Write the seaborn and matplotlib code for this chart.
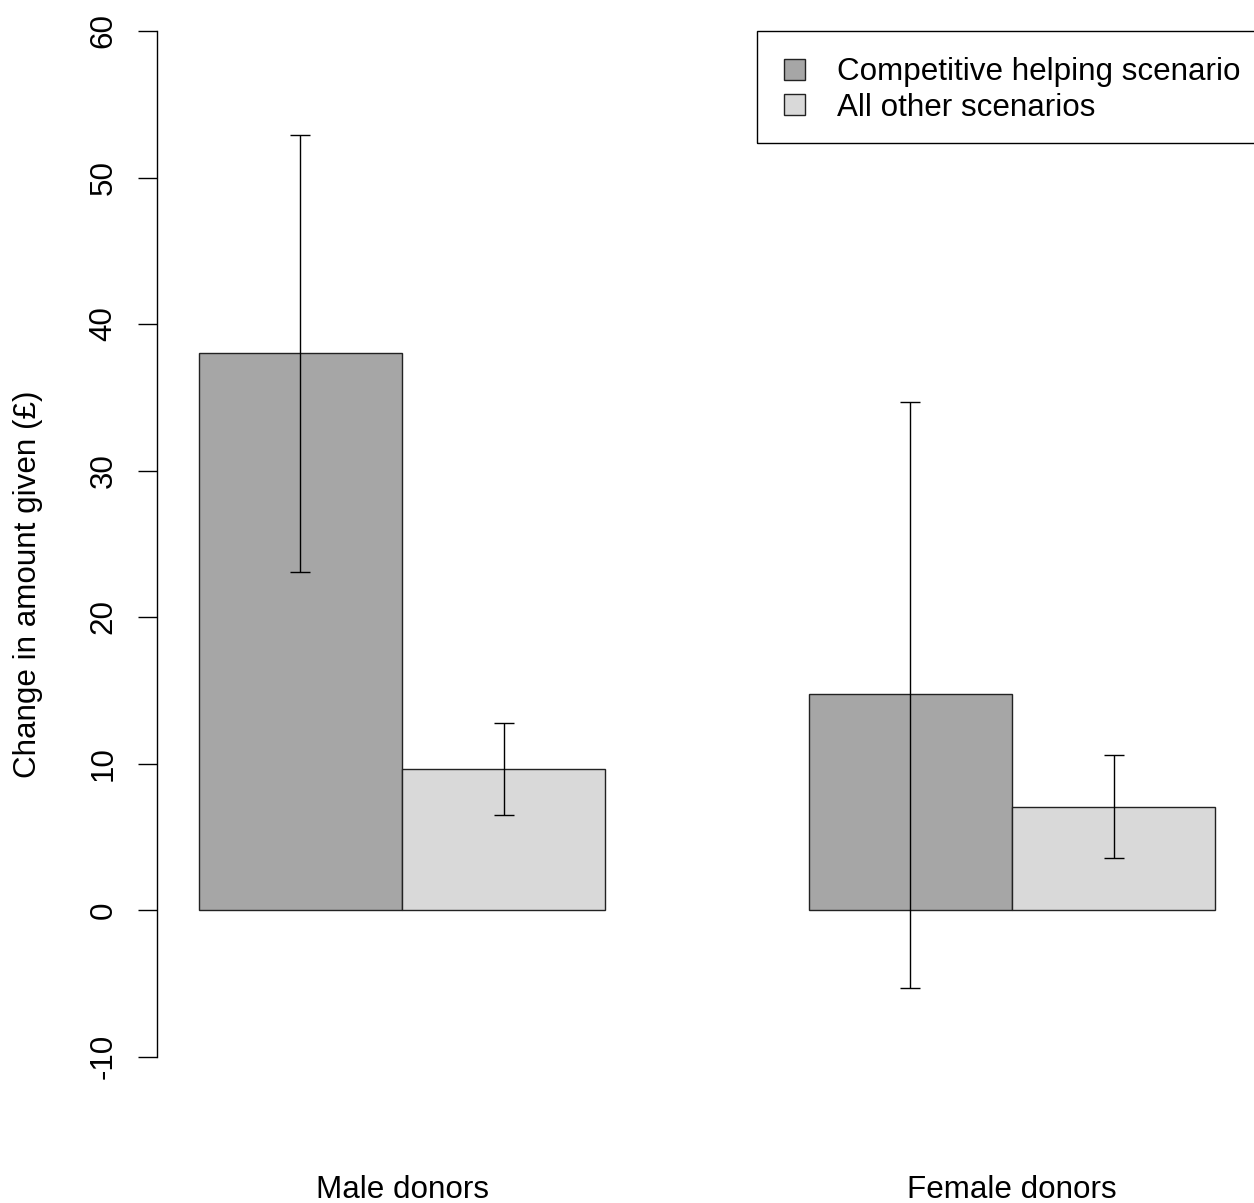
import matplotlib
matplotlib.use("Agg")
import matplotlib.pyplot as plt
from matplotlib.patches import Rectangle
import seaborn as sns
import pandas as pd
import numpy as np

groups = ["Male donors", "Female donors"]
scenarios = ["Competitive helping scenario", "All other scenarios"]
competitive_mean = [38.0, 14.75]
competitive_low = [23.1, -5.3]
competitive_high = [52.9, 34.7]
other_mean = [9.6, 7.05]
other_low = [6.5, 3.55]
other_high = [12.75, 10.6]
yticks = [-10, 0, 10, 20, 30, 40, 50, 60]

rows = []
for i, g in enumerate(groups):
    rows.append(dict(group=g, scenario=scenarios[0], value=competitive_mean[i],
                     low=competitive_low[i], high=competitive_high[i]))
for i, g in enumerate(groups):
    rows.append(dict(group=g, scenario=scenarios[1], value=other_mean[i],
                     low=other_low[i], high=other_high[i]))
df = pd.DataFrame(rows)

sns.set_theme(style="white")
plt.rcParams["font.family"] = ["Liberation Sans", "DejaVu Sans"]
plt.rcParams["text.color"] = "black"
plt.rcParams["axes.labelcolor"] = "black"
plt.rcParams["xtick.color"] = "black"
plt.rcParams["ytick.color"] = "black"
FS = 22.6

W, H = 1254, 1203
fig = plt.figure(figsize=(W / 100, H / 100), dpi=100)
left, right, top, bottom = 157, 1254, 8, 1160
ax = fig.add_axes([left / W, (H - bottom) / H, (right - left) / W, (bottom - top) / H])

sns.barplot(data=df, x="group", y="value", hue="scenario", order=groups,
            hue_order=scenarios, palette=["#a6a6a6", "#d9d9d9"], saturation=1,
            width=2 / 3, gap=0, edgecolor="#222222", linewidth=1.0, ax=ax,
            errorbar=None)

# error bars
for container, sc in zip(ax.containers, scenarios):
    sub = df[df.scenario == sc].set_index("group").loc[groups]
    xs = [b.get_x() + b.get_width() / 2 for b in container]
    vals = sub["value"].values
    yerr = np.vstack([vals - sub["low"].values, sub["high"].values - vals])
    ax.errorbar(xs, vals, yerr=yerr, fmt="none", ecolor="black",
                elinewidth=1.0, capsize=7.2, capthick=1.0)

# limits: category spacing 610 px, group centre at 402 px
pxu = 610.0
ax.set_xlim(-(402 - left) / pxu, 1 + (right - 1012) / pxu)
ppy = 14.65
ax.set_ylim(-(bottom - 910) / ppy, (910 - top) / ppy)

for s in ["top", "right", "bottom"]:
    ax.spines[s].set_visible(False)
ax.spines["left"].set_bounds(-10, 60)
ax.spines["left"].set_color("black")
ax.spines["left"].set_linewidth(1.0)

ax.set_yticks(yticks)
ax.set_yticklabels([str(t) for t in yticks], rotation=90, va="center", fontsize=FS)
ax.tick_params(axis="y", left=True, length=13.7, width=1.0, color="black", pad=14)
ax.tick_params(axis="x", bottom=False, length=0, pad=11, labelsize=FS)
ax.set_xlabel("")
ax.set_ylabel("Change in amount given (£)", fontsize=FS, labelpad=33)

# legend (frame drawn separately)
handles, labels = ax.get_legend_handles_labels()
x0 = 765 / W
y1 = (H - 38) / H
wid = (1262 - 765) / W
hgt = (143 - 38) / H
leg = ax.legend(handles, labels, loc="upper left", bbox_to_anchor=(x0, y1 - hgt, wid, hgt),
                bbox_transform=fig.transFigure, mode="expand", fontsize=FS,
                frameon=False,
                handlelength=0.66, handleheight=0.66, handletextpad=1.0,
                labelspacing=0.17, borderpad=0.62, borderaxespad=0)
for p in leg.get_patches():
    p.set_edgecolor("#222222")
    p.set_linewidth(1.0)
fig.patches.append(Rectangle((757 / W, (H - 143) / H), (1270 - 757) / W, (143 - 31) / H,
                             transform=fig.transFigure, fill=False, edgecolor="black",
                             linewidth=1.0, figure=fig))

fig.savefig("out.png", dpi=100)
